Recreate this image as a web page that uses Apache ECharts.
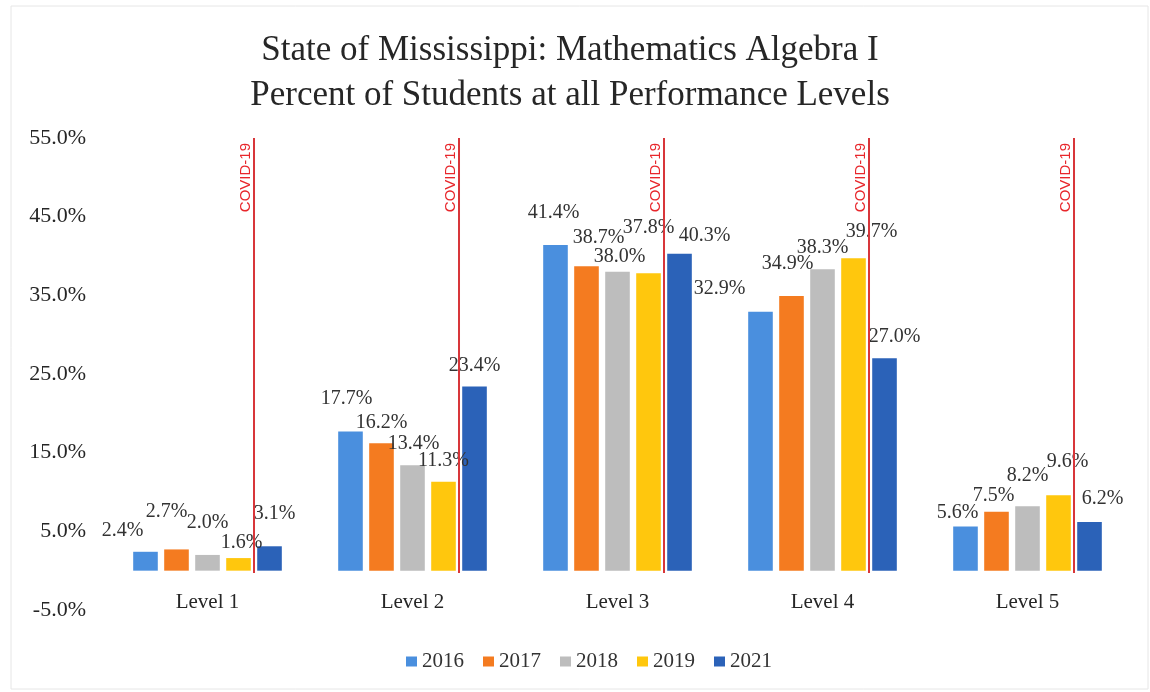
<!DOCTYPE html>
<html><head><meta charset="utf-8">
<script src="https://cdn.jsdelivr.net/npm/echarts@6/dist/echarts.min.js"></script>
<style>html,body{margin:0;padding:0;background:#fff}#c{width:1150px;height:692px}</style>
</head><body><div id="c"></div>
<script>
// ---- data ----
const titleText = 'State of Mississippi: Mathematics Algebra I\nPercent of Students at all Performance Levels';
const categories = ['Level 1', 'Level 2', 'Level 3', 'Level 4', 'Level 5'];
const years = ['2016', '2017', '2018', '2019', '2021'];
const v2016 = [2.4, 17.7, 41.4, 32.9, 5.6];
const v2017 = [2.7, 16.2, 38.7, 34.9, 7.5];
const v2018 = [2.0, 13.4, 38.0, 38.3, 8.2];
const v2019 = [1.6, 11.3, 37.8, 39.7, 9.6];
const v2021 = [3.1, 23.4, 40.3, 27.0, 6.2];
const yTicks = [-5, 5, 15, 25, 35, 45, 55];
const markerText = 'COVID-19';

// ---- styles ----
const colors = ['#4a8fde', '#f47b20', '#bdbdbd', '#ffc70d', '#2b62b8'];
const serif = '"Liberation Serif", "Times New Roman", serif';
const catGap = 0.275, barGapR = 0.26;
// manual label nudges (dx, dy) per series per category, mimicking the reference placement
const labelNudge = [
  [[-23, -11], [-4, -23], [-2, -22], [-41, -13], [-8, -4]],
  [[-10, -28], [0, -10], [12, -18], [-4, -22], [-3, -6]],
  [[0, -22], [1, -12], [2, -5], [0, -12], [0, -20]],
  [[3, -5], [0, -11], [0, -36], [18, -17], [9, -23]],
  [[5, -23], [0, -11], [25, -8], [10, -12], [13, -13]]
];

const valueSets = [v2016, v2017, v2018, v2019, v2021];
const series = years.map((y, si) => ({
  name: y,
  type: 'bar',
  barCategoryGap: (catGap * 100) + '%',
  barGap: (barGapR * 100) + '%',
  itemStyle: { color: colors[si] },
  data: valueSets[si].map((v, ci) => ({
    value: v,
    label: { offset: labelNudge[si][ci] }
  })),
  label: {
    show: true,
    position: 'top',
    distance: 0,
    fontFamily: serif,
    fontSize: 20,
    color: '#333',
    formatter: p => p.value.toFixed(1) + '%'
  },
  z: 2
}));

series.push({
  type: 'custom',
  name: 'covid',
  silent: true,
  z: 5,
  data: categories.map((c, i) => [i, 0]),
  encode: { x: 0, y: 1 },
  renderItem: (params, api) => {
    const idx = api.value(0);
    const base = api.coord([idx, -0.3]);
    const top = api.coord([idx, 55]);
    const band = api.size([1, 0])[0];
    const groupW = band * (1 - catGap);
    const barW = groupW / (5 + 4 * barGapR);
    const step = barW * (1 + barGapR);
    const x = base[0] + 1.5 * step;
    return {
      type: 'group',
      children: [
        { type: 'line', shape: { x1: x, y1: top[1], x2: x, y2: base[1] },
          style: { stroke: '#d8363a', lineWidth: 2 } },
        { type: 'text', x: x - 8, y: top[1] + 5, rotation: Math.PI / 2,
          style: { text: markerText, fill: '#e8262b',
            font: '15px "Liberation Sans", Arial, sans-serif',
            align: 'right', verticalAlign: 'middle' } }
      ]
    };
  }
});

const chart = echarts.init(document.getElementById('c'), null, { renderer: 'canvas' });
chart.setOption({
  backgroundColor: '#fff',
  animation: false,
  title: {
    text: titleText,
    left: 565,
    textAlign: 'center',
    top: 23,
    textStyle: { fontFamily: serif, fontSize: 35, fontWeight: 'normal', lineHeight: 45, color: '#262626' }
  },
  legend: {
    data: years,
    left: 401,
    top: 646,
    icon: 'rect',
    itemWidth: 11,
    itemHeight: 10,
    itemGap: 19,
    textStyle: { fontFamily: serif, fontSize: 21, color: '#333' }
  },
  grid: { left: 105, right: 20, top: 138, bottom: 82, containLabel: false },
  xAxis: {
    type: 'category',
    data: categories,
    axisLine: { show: false, onZero: false },
    axisTick: { show: false },
    axisLabel: { fontFamily: serif, fontSize: 21, color: '#262626', margin: -18 }
  },
  yAxis: {
    type: 'value',
    min: -5,
    max: 55,
    splitLine: { show: false },
    axisLine: { show: false },
    axisTick: { show: false },
    axisLabel: {
      customValues: yTicks,
      fontFamily: serif, fontSize: 22, color: '#262626', margin: 19,
      formatter: v => v.toFixed(1) + '%'
    }
  },
  graphic: [{
    type: 'rect', silent: true, z: -1,
    shape: { x: 11, y: 6, width: 1137, height: 683 },
    style: { fill: 'none', stroke: '#e6e6e6', lineWidth: 1 }
  }],
  series: series
});
</script>
</body></html>
